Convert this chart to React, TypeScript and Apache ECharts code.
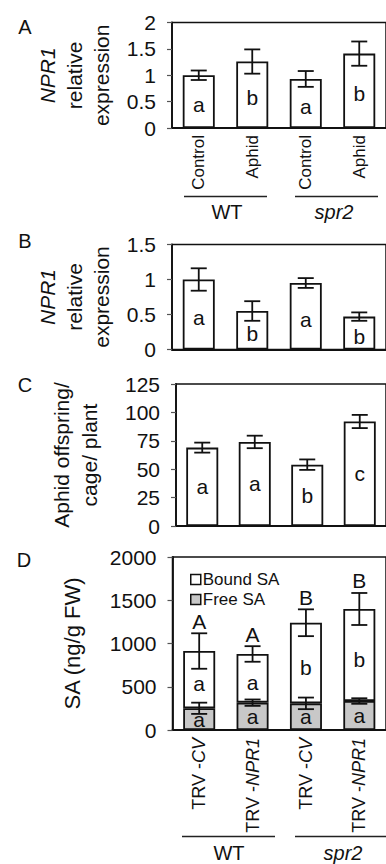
import React, { useEffect, useRef } from 'react';
import * as echarts from 'echarts';

// ---- Data ----
const treatments = ['Control', 'Aphid', 'Control', 'Aphid'];
const genotypes = ['WT', 'spr2'];

const aValues = [1.0, 1.26, 0.93, 1.41];
const aErrors = [0.09, 0.23, 0.15, 0.23];
const aLetters = ['a', 'b', 'a', 'b'];
const aTicks = [0, 0.5, 1, 1.5, 2];

const bValues = [1.0, 0.55, 0.95, 0.47];
const bErrors = [0.16, 0.14, 0.07, 0.06];
const bLetters = ['a', 'b', 'a', 'b'];
const bTicks = [0, 0.5, 1, 1.5];

const cValues = [69, 74, 54, 92];
const cErrors = [4.4, 5.5, 4.6, 5.8];
const cLetters = ['a', 'a', 'b', 'c'];
const cTicks = [0, 25, 50, 75, 100, 125];

const dCategories = ['TRV -CV', 'TRV -NPR1', 'TRV -CV', 'TRV -NPR1'];
const dFree = [251, 316, 308, 335];
const dFreeErrors = [65, 37, 67, 32];
const dBound = [662, 563, 932, 1064];
const dTotalErrors = [205, 90, 155, 185];
const dFreeLetters = ['a', 'a', 'a', 'a'];
const dBoundLetters = ['a', 'a', 'b', 'b'];
const dTotalLetters = ['A', 'A', 'B', 'B'];
const dTicks = [0, 500, 1000, 1500, 2000];

const exprTitle = '{i|NPR1}\nrelative\nexpression';
const aphidTitle = 'Aphid offspring/\ncage/ plant';
const saTitle = 'SA (ng/g FW)';

const FONT = 'Liberation Sans, Arial, sans-serif';
const INK = '#111';

function yAxis(gridIndex: number, ticks: number[]) {
  return {
    type: 'value',
    gridIndex,
    min: ticks[0],
    max: ticks[ticks.length - 1],
    interval: ticks[1] - ticks[0],
    axisLine: { show: true, lineStyle: { color: INK, width: 1.8 } },
    axisTick: { show: true, inside: false, length: 5, lineStyle: { color: '#555', width: 1.2 } },
    splitLine: { show: false },
    axisLabel: {
      fontFamily: FONT,
      fontSize: 21,
      color: INK,
      margin: 16,
      formatter: (v: number) => String(v),
    },
  };
}

function xAxis(gridIndex: number, data: string[], showLabels: boolean, extra: any = {}) {
  return {
    type: 'category',
    gridIndex,
    data,
    axisLine: { show: true, lineStyle: { color: INK, width: 1.8 } },
    axisTick: { show: false },
    axisLabel: {
      show: showLabels,
      rotate: 90,
      fontFamily: FONT,
      fontSize: 17,
      color: INK,
      margin: 7,
      ...extra,
    },
  };
}

function barSeries(idx: number, values: number[], letters: string[], offsetY: number, color = '#fff', stack?: string, name?: string) {
  return {
    type: 'bar',
    name,
    stack,
    xAxisIndex: idx,
    yAxisIndex: idx,
    data: values,
    barWidth: 32,
    itemStyle: { color, borderColor: INK, borderWidth: 1.8 },
    label: {
      show: true,
      position: 'inside',
      offset: [0, offsetY],
      formatter: (p: any) => letters[p.dataIndex],
      fontFamily: FONT,
      fontSize: 21,
      color: INK,
    },
  };
}

function errorSeries(idx: number, values: number[], errors: number[], topLetters?: string[]) {
  return {
    type: 'custom',
    xAxisIndex: idx,
    yAxisIndex: idx,
    z: 10,
    data: values.map((v, i) => [i, v, errors[i]]),
    renderItem: (params: any, api: any) => {
      const i = api.value(0);
      const v = api.value(1);
      const e = api.value(2);
      const hi = api.coord([i, v + e]);
      const lo = api.coord([i, v - e]);
      const half = 8;
      const st = { stroke: INK, lineWidth: 1.8 };
      const children: any[] = [
        { type: 'line', shape: { x1: hi[0], y1: hi[1], x2: lo[0], y2: lo[1] }, style: st },
        { type: 'line', shape: { x1: hi[0] - half, y1: hi[1], x2: hi[0] + half, y2: hi[1] }, style: st },
        { type: 'line', shape: { x1: lo[0] - half, y1: lo[1], x2: lo[0] + half, y2: lo[1] }, style: st },
      ];
      if (topLetters) {
        children.push({
          type: 'text',
          x: hi[0],
          y: hi[1] - 12,
          style: {
            text: topLetters[i],
            fontFamily: FONT,
            fontSize: 21,
            fill: INK,
            align: 'center',
            verticalAlign: 'middle',
          },
        });
      }
      return { type: 'group', children };
    },
  };
}

function txt(text: string, x: number, y: number, fontSize: number, italic = false, rotation = 0, extra: any = {}) {
  return {
    type: 'text',
    x,
    y,
    rotation,
    style: {
      text,
      fontFamily: FONT,
      fontSize,
      fontStyle: italic ? 'italic' : 'normal',
      fill: INK,
      align: 'center',
      verticalAlign: 'middle',
      ...extra,
    },
  };
}

function hline(x1: number, x2: number, y: number) {
  return { type: 'line', shape: { x1, y1: y, x2, y2: y }, style: { stroke: '#222', lineWidth: 1.6 } };
}

export default function App() {
  const ref = useRef<HTMLDivElement>(null);

  useEffect(() => {
    if (!ref.current) return;
    const chart = echarts.init(ref.current, undefined, { renderer: 'svg' });
    const italicRich = {
      i: { fontStyle: 'italic', fontFamily: FONT, fontSize: 21, fill: INK, lineHeight: 27 },
    };
    const dTotals = dFree.map((f, i) => f + dBound[i]);
    const gridBase = { show: true, borderColor: INK, borderWidth: 1.5, backgroundColor: 'transparent' };
    const ROT = Math.PI / 2;

    chart.setOption({
      animation: false,
      backgroundColor: '#fff',
      textStyle: { fontFamily: FONT },
      grid: [
        { ...gridBase, left: 172, top: 22.5, width: 220, height: 105.5 },
        { ...gridBase, left: 172, top: 244.5, width: 220, height: 105 },
        { ...gridBase, left: 176, top: 384, width: 219, height: 142 },
        { ...gridBase, left: 172.5, top: 557, width: 220, height: 173 },
      ],
      xAxis: [
        xAxis(0, treatments, true),
        xAxis(1, treatments, false),
        xAxis(2, treatments, false),
        xAxis(3, dCategories, true, {
          fontSize: 18,
          margin: 8,
          formatter: (v: string) => v.replace(/-(\w+)/, '-{i|$1}'),
          rich: { i: { fontStyle: 'italic', fontFamily: FONT, fontSize: 18, color: INK } },
        }),
      ],
      yAxis: [yAxis(0, aTicks), yAxis(1, bTicks), yAxis(2, cTicks), yAxis(3, dTicks)],
      legend: {
        data: ['Bound SA', 'Free SA'],
        orient: 'vertical',
        left: 185,
        top: 566,
        itemWidth: 10,
        itemHeight: 10,
        itemGap: 3,
        icon: 'rect',
        itemStyle: { borderColor: INK, borderWidth: 1.5 },
        textStyle: { fontFamily: FONT, fontSize: 17, color: INK, padding: [0, 0, 0, -3] },
      },
      series: [
        barSeries(0, aValues, aLetters, 3),
        errorSeries(0, aValues, aErrors),
        barSeries(1, bValues, bLetters, 3),
        errorSeries(1, bValues, bErrors),
        barSeries(2, cValues, cLetters, 0),
        errorSeries(2, cValues, cErrors),
        barSeries(3, dFree, dFreeLetters, 0, '#c8c8c8', 'sa', 'Free SA'),
        barSeries(3, dBound, dBoundLetters, 4, '#fff', 'sa', 'Bound SA'),
        errorSeries(3, dFree, dFreeErrors),
        errorSeries(3, dTotals, dTotalErrors, dTotalLetters),
      ],
      graphic: [
        txt('A', 25, 27, 20),
        txt('B', 25, 241, 20),
        txt('C', 25, 385, 20),
        txt('D', 24, 560, 20),
        txt(exprTitle, 74, 75.3, 21, false, ROT, { lineHeight: 27, rich: italicRich }),
        txt(exprTitle, 74, 297, 21, false, ROT, { lineHeight: 27, rich: italicRich }),
        txt(aphidTitle, 75, 455, 21, false, ROT, { lineHeight: 28 }),
        txt(saTitle, 72, 643.5, 22, false, ROT),
        hline(184, 267, 196.5),
        hline(295, 378, 196.5),
        txt(genotypes[0], 227, 211.5, 20),
        txt(genotypes[1], 334, 211.5, 20, true),
        hline(182, 275, 836.5),
        hline(295, 386, 836.5),
        txt(genotypes[0], 229, 853, 20),
        txt(genotypes[1], 343, 853, 20, true),
      ],
    });
    return () => chart.dispose();
  }, []);

  return (
    <div
      ref={ref}
      style={{ position: 'absolute', left: 0, top: 0, width: 386, height: 864 }}
    />
  );
}
